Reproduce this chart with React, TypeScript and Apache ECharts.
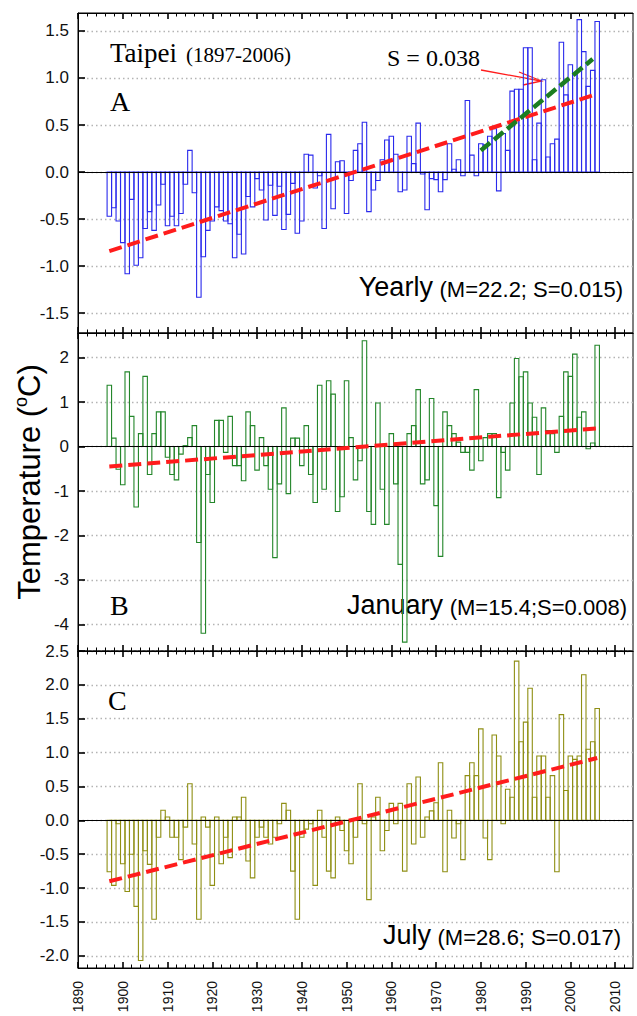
import React, { useEffect, useRef } from 'react';
import * as echarts from 'echarts';

const YEARS = [
  1897, 1898, 1899, 1900, 1901, 1902, 1903, 1904, 1905, 1906,
  1907, 1908, 1909, 1910, 1911, 1912, 1913, 1914, 1915, 1916,
  1917, 1918, 1919, 1920, 1921, 1922, 1923, 1924, 1925, 1926,
  1927, 1928, 1929, 1930, 1931, 1932, 1933, 1934, 1935, 1936,
  1937, 1938, 1939, 1940, 1941, 1942, 1943, 1944, 1945, 1946,
  1947, 1948, 1949, 1950, 1951, 1952, 1953, 1954, 1955, 1956,
  1957, 1958, 1959, 1960, 1961, 1962, 1963, 1964, 1965, 1966,
  1967, 1968, 1969, 1970, 1971, 1972, 1973, 1974, 1975, 1976,
  1977, 1978, 1979, 1980, 1981, 1982, 1983, 1984, 1985, 1986,
  1987, 1988, 1989, 1990, 1991, 1992, 1993, 1994, 1995, 1996,
  1997, 1998, 1999, 2000, 2001, 2002, 2003, 2004, 2005, 2006,
];

const YEARLY = [
  -0.47, -0.38, -0.52, -0.75, -1.08, -0.29, -0.99, -0.91, -0.60, -0.42,
  -0.62, -0.35, -0.13, -0.57, -0.47, -0.57, -0.44, -0.13, 0.23, -0.22,
  -1.33, -0.90, -0.62, -0.52, -0.37, -0.41, -0.52, -0.55, -0.91, -0.66,
  -0.87, -0.26, -0.37, -0.07, -0.19, -0.51, -0.14, -0.46, -0.15, -0.61,
  -0.45, -0.12, -0.65, -0.52, 0.19, 0.18, -0.17, -0.04, -0.60, 0.40,
  -0.39, 0.11, 0.12, -0.44, -0.09, 0.23, 0.30, 0.53, -0.42, -0.19,
  -0.09, 0.13, 0.34, 0.38, 0.19, -0.21, -0.19, 0.38, 0.09, 0.52,
  -0.02, -0.40, -0.07, -0.08, -0.21, -0.08, 0.30, 0.03, 0.13, -0.04,
  0.76, 0.18, -0.04, 0.30, 0.29, 0.38, 0.46, -0.20, 0.41, 0.23,
  0.86, 0.88, 0.88, 1.32, 1.32, 0.13, 0.52, 0.98, 0.16, 0.30,
  0.35, 1.38, 0.82, 1.14, 1.05, 1.62, 1.28, 0.91, 1.08, 1.60,
];

const JANUARY = [
  1.38, 0.19, -0.51, -0.86, 1.68, 0.68, -1.36, 0.29, 1.58, -0.63,
  0.29, 0.78, 0.78, -0.24, -0.63, -0.75, -0.17, 0.02, 0.20, 0.47,
  -2.16, -4.20, -0.63, -1.26, 0.59, 0.59, -0.13, 0.68, -0.43, -0.43,
  -0.77, 0.78, 0.47, -0.53, 0.20, -0.43, -0.96, -2.50, -0.84, 0.87,
  -1.06, 0.19, 0.19, -0.43, 0.47, -0.63, -1.26, 1.38, -0.96, 1.48,
  1.18, -1.46, -1.13, 1.48, 0.20, -0.75, -0.32, 2.38, -1.46, -1.75,
  0.98, -0.96, -1.75, 0.29, -0.84, -2.65, -4.40, 0.29, 0.47, 1.28,
  -0.84, -0.75, 1.08, -1.33, -2.47, 0.78, 0.47, 0.29, 0.10, -0.13,
  -0.13, -0.53, 1.28, -0.32, 0.20, 0.29, 0.29, -1.15, -0.13, -0.53,
  0.98, 1.98, 1.57, 1.68, 0.98, 0.66, -0.63, 0.87, 0.36, 0.29,
  -0.13, 0.68, 1.68, 1.58, 2.08, 0.66, 0.78, -0.05, 0.08, 2.28,
];

const JULY = [
  -0.76, -0.96, -0.05, -0.64, -1.05, -0.50, -1.27, -2.07, -0.45, -0.65,
  -1.46, -0.25, 0.15, 0.05, -0.25, -0.25, -0.58, -0.10, 0.54, -0.35,
  -1.46, 0.05, -0.10, -0.96, 0.05, -0.64, -0.25, -0.55, 0.05, 0.05,
  0.34, -0.60, -0.85, -0.25, -0.10, -0.25, -0.35, -0.25, -0.05, 0.25,
  0.15, -0.75, -1.46, -0.25, -0.13, -0.05, -0.96, 0.15, -0.25, -0.75,
  -0.85, 0.05, -0.15, -0.45, -0.64, -0.25, 0.54, -0.05, -1.17, 0.05,
  0.34, -0.45, -0.15, 0.25, -0.05, 0.25, -0.75, 0.54, -0.35, 0.64,
  -0.25, 0.05, 0.14, 0.26, 0.85, -0.76, 0.15, -0.26, -0.05, -0.58,
  0.66, 0.85, 0.66, 1.35, -0.26, -0.58, 1.26, 0.95, -0.05, 0.46,
  0.34, 2.35, 1.16, 1.45, 1.95, 0.34, 0.95, 0.95, 0.34, 0.66,
  -0.76, 1.56, 0.44, 0.95, 0.90, 0.95, 2.15, 1.05, 1.16, 1.65,
];

const DECADE_TICKS = [1890, 1900, 1910, 1920, 1930, 1940, 1950, 1960, 1970, 1980, 1990, 2000, 2010];
const YEARLY_TICKS = [-1.5, -1.0, -0.5, 0.0, 0.5, 1.0, 1.5];
const JANUARY_TICKS = [-4, -3, -2, -1, 0, 1, 2];
const JULY_TICKS = [-2.0, -1.5, -1.0, -0.5, 0.0, 0.5, 1.0, 1.5, 2.0, 2.5];

const YEARLY_TREND = [[1897, -0.84], [2006, 0.83]];
const RECENT_TREND = [[1980, 0.23], [2005, 1.2]];
const JANUARY_TREND = [[1897, -0.45], [2006, 0.41]];
const JULY_TREND = [[1897, -0.9], [2006, 0.92]];

const SANS = '"Liberation Sans", Arial, sans-serif';
const SERIF = '"Liberation Serif", "Times New Roman", serif';

const MINOR_TICKS: number[] = [];
for (let y = 1892; y < 2014; y += 2) {
  if (y % 10 !== 0) MINOR_TICKS.push(y);
}

export default function App() {
  const ref = useRef<HTMLDivElement>(null);

  useEffect(() => {
    if (!ref.current) return;
    const chart = echarts.init(ref.current, null, { renderer: 'svg' });

    const panels = [
      { top: 13, height: 320, min: -1.71, max: 1.69, ticks: YEARLY_TICKS, dec: 1, values: YEARLY, color: '#2a2aec', trend: YEARLY_TREND },
      { top: 333, height: 318, min: -4.6, max: 2.555, ticks: JANUARY_TICKS, dec: 0, values: JANUARY, color: '#23862a', trend: JANUARY_TREND },
      { top: 651, height: 317, min: -2.18, max: 2.5, ticks: JULY_TICKS, dec: 1, values: JULY, color: '#8f8f14', trend: JULY_TREND },
    ];

    const grid: any[] = [];
    const xAxis: any[] = [];
    const yAxis: any[] = [];
    const series: any[] = [];

    panels.forEach((p, gi) => {
      grid.push({
        left: 78, width: 555, top: p.top, height: p.height,
        show: true, borderColor: '#000', borderWidth: 1, backgroundColor: 'transparent',
        outerBoundsMode: 'none', containLabel: false,
      });
      ['bottom', 'top'].forEach((pos) => {
        xAxis.push({
          gridIndex: gi, type: 'value', min: 1890, max: 2014, position: pos,
          axisLine: { show: true, onZero: false, lineStyle: { color: '#000', width: 1 } },
          axisTick: { show: true, inside: true, length: 6, customValues: DECADE_TICKS, lineStyle: { color: '#000', width: 1.6 } },
          axisLabel: {
            show: gi === 2 && pos === 'bottom', customValues: DECADE_TICKS, rotate: 90, margin: 13,
            fontSize: 14, color: '#111', fontFamily: SANS, formatter: (v: number) => String(v),
          },
          splitLine: { show: false },
        });
        xAxis.push({
          gridIndex: gi, type: 'value', min: 1890, max: 2014, position: pos,
          axisLine: { show: false, onZero: false },
          axisTick: { show: true, inside: true, length: 3.5, customValues: MINOR_TICKS, lineStyle: { color: '#000', width: 1 } },
          axisLabel: { show: false },
          splitLine: { show: false },
        });
      });
      yAxis.push({
        gridIndex: gi, type: 'value', min: p.min, max: p.max, position: 'left',
        axisLine: { show: true, onZero: false, lineStyle: { color: '#000', width: 1 } },
        axisTick: { show: true, inside: true, length: 7, customValues: p.ticks, lineStyle: { color: '#000', width: 1.6 } },
        axisLabel: {
          customValues: p.ticks, margin: 9, fontSize: 17, color: '#111', fontFamily: SANS,
          formatter: (v: number) => v.toFixed(p.dec),
        },
        splitLine: { show: true, lineStyle: { color: '#b4b4b4', type: [1.5, 3], width: 1.3 } },
      });

      const color = p.color;
      series.push({
        type: 'custom', xAxisIndex: gi * 4, yAxisIndex: gi,
        data: YEARS.map((y, i) => [y, p.values[i]]),
        encode: { x: 0, y: 1 },
        silent: true,
        z: 2,
        renderItem: (params: any, api: any) => {
          const yr = api.value(0);
          const v = api.value(1);
          const a = api.coord([yr - 0.5, 0]);
          const b = api.coord([yr + 0.5, v]);
          return {
            type: 'rect',
            shape: { x: a[0], y: Math.min(a[1], b[1]), width: b[0] - a[0], height: Math.abs(b[1] - a[1]) },
            style: { fill: 'none', stroke: color, lineWidth: 1.1 },
          };
        },
        markLine: {
          silent: true, symbol: 'none', label: { show: false },
          lineStyle: { color: '#000', width: 1.2, type: 'solid' },
          data: [{ yAxis: 0 }],
        },
      });
      series.push({
        type: 'line', xAxisIndex: gi * 4, yAxisIndex: gi,
        data: p.trend, symbol: 'none', silent: true, z: 5,
        lineStyle: { color: '#ff1c1c', width: 4, type: [13, 6] },
      });
    });

    series.push({
      type: 'line', xAxisIndex: 0, yAxisIndex: 0,
      data: RECENT_TREND, symbol: 'none', silent: true, z: 6,
      lineStyle: { color: '#1b7d21', width: 4.5, type: [12, 5] },
    });

    const labelRich = {
      b: { fontSize: 27, fontFamily: SANS, color: '#000', fill: '#000', verticalAlign: 'bottom' },
      s: { fontSize: 22, fontFamily: SANS, color: '#000', fill: '#000', verticalAlign: 'bottom' },
    };

    const graphic: any[] = [
      { type: 'text', x: 110, y: 53, silent: true, style: { text: 'Taipei', fontSize: 27, fontFamily: SERIF, fill: '#000', align: 'left', verticalAlign: 'middle' } },
      { type: 'text', x: 186, y: 55, silent: true, style: { text: '(1897-2006)', fontSize: 21, fontFamily: SERIF, fill: '#000', align: 'left', verticalAlign: 'middle' } },
      { type: 'text', x: 387, y: 58, silent: true, style: { text: 'S = 0.038', fontSize: 24, fontFamily: SERIF, fill: '#000', align: 'left', verticalAlign: 'middle' } },
      { type: 'line', silent: true, shape: { x1: 481, y1: 70, x2: 541, y2: 81 }, style: { stroke: '#ff1c1c', lineWidth: 1.3 } },
      { type: 'polyline', silent: true, shape: { points: [[519, 72], [541.5, 81], [523, 85]] }, style: { stroke: '#ff1c1c', lineWidth: 1.3, fill: 'none' } },
      { type: 'text', x: 110, y: 101, silent: true, style: { text: 'A', fontSize: 28, fontFamily: SERIF, fill: '#000', align: 'left', verticalAlign: 'middle' } },
      { type: 'text', x: 110, y: 605, silent: true, style: { text: 'B', fontSize: 28, fontFamily: SERIF, fill: '#000', align: 'left', verticalAlign: 'middle' } },
      { type: 'text', x: 108, y: 700, silent: true, style: { text: 'C', fontSize: 28, fontFamily: SERIF, fill: '#000', align: 'left', verticalAlign: 'middle' } },
      { type: 'text', x: 623, y: 300, silent: true, style: { text: '{b|Yearly}  {s|(M=22.2; S=0.015)}', rich: labelRich, align: 'right', verticalAlign: 'bottom' } },
      { type: 'text', x: 627, y: 618, silent: true, style: { text: '{b|January}  {s|(M=15.4;S=0.008)}', rich: labelRich, align: 'right', verticalAlign: 'bottom' } },
      { type: 'text', x: 621, y: 948, silent: true, style: { text: '{b|July}  {s|(M=28.6; S=0.017)}', rich: labelRich, align: 'right', verticalAlign: 'bottom' } },
      {
        type: 'text', x: 29, y: 482, rotation: Math.PI / 2, silent: true,
        style: {
          text: '{a|Temperature (}{s|o}{a|C)}',
          align: 'center', verticalAlign: 'middle',
          rich: {
            a: { fontSize: 31, fontFamily: SANS, fill: '#000', color: '#000', lineHeight: 34 },
            s: { fontSize: 18, fontFamily: SANS, fill: '#000', color: '#000', verticalAlign: 'top', lineHeight: 20 },
          },
        },
      },
    ];

    chart.setOption({
      animation: false,
      backgroundColor: '#fff',
      grid, xAxis, yAxis, series, graphic,
    });

    return () => chart.dispose();
  }, []);

  return <div ref={ref} style={{ position: 'absolute', left: 0, top: 0, width: 637, height: 1016 }} />;
}
